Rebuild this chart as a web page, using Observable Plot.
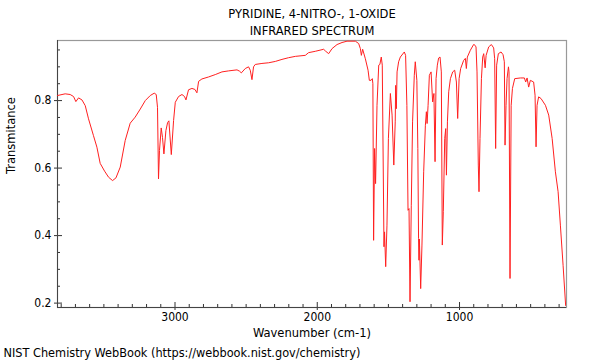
<!DOCTYPE html>
<html>
<head>
<meta charset="utf-8">
<script src="https://cdn.jsdelivr.net/npm/d3@7"></script>
<script src="https://cdn.jsdelivr.net/npm/@observablehq/plot@0.6"></script>
<style>
  html, body { margin: 0; padding: 0; background: #fff; }
  #chart svg { display: block; }
</style>
</head>
<body>
<div id="chart"></div>
<script>
const titleLines = ["PYRIDINE, 4-NITRO-, 1-OXIDE", "INFRARED SPECTRUM"];
const xLabel = "Wavenumber (cm-1)";
const yLabel = "Transmitance";
const footer = "NIST Chemistry WebBook (https://webbook.nist.gov/chemistry)";

const wavenumber = [
  3826, 3772, 3737, 3713, 3697, 3678, 3654, 3631, 3608, 3573, 3549, 3526, 3495, 3467, 3439, 3415,
  3385, 3350, 3315, 3280, 3244, 3209, 3174, 3146, 3132, 3123, 3116, 3109, 3097, 3088, 3078, 3064,
  3052, 3043, 3026, 3010, 2998, 2975, 2951, 2933, 2923, 2905, 2881, 2860, 2846, 2834, 2811, 2764,
  2717, 2670, 2623, 2564, 2546, 2534, 2506, 2483, 2471, 2459, 2448, 2436, 2389, 2342, 2295, 2248,
  2202, 2154, 2084, 2061, 2014, 1955, 1943, 1920, 1896, 1861, 1826, 1791, 1732, 1709, 1697, 1690,
  1681, 1662, 1643, 1634, 1622, 1613, 1609, 1604, 1597, 1590, 1580, 1568, 1560, 1550, 1543, 1531,
  1527, 1519, 1510, 1500, 1486, 1474, 1462, 1452, 1449, 1444, 1439, 1428, 1416, 1388, 1379, 1370,
  1362, 1355, 1348, 1339, 1330, 1318, 1311, 1300, 1293, 1288, 1285, 1282, 1273, 1264, 1252, 1240,
  1233, 1228, 1221, 1212, 1200, 1189, 1180, 1172, 1165, 1156, 1147, 1137, 1128, 1121, 1114, 1104,
  1097, 1092, 1085, 1076, 1064, 1048, 1034, 1022, 1013, 1003, 992, 971, 959, 952, 945, 924,
  901, 896, 884, 877, 868, 863, 856, 846, 837, 830, 820, 813, 795, 776, 760, 753,
  746, 739, 727, 708, 694, 685, 680, 673, 666, 656, 652, 645, 637, 628, 612, 572,
  544, 535, 525, 514, 502, 479, 469, 462, 455, 444, 427, 396, 373, 349, 326, 307,
  291, 272, 254
];
const transmittance = [
  0.815, 0.820, 0.818, 0.812, 0.797, 0.808, 0.802, 0.785, 0.746, 0.696, 0.662, 0.614, 0.591, 0.573, 0.563, 0.571,
  0.603, 0.682, 0.733, 0.751, 0.775, 0.800, 0.815, 0.822, 0.818, 0.780, 0.568, 0.652, 0.719, 0.691, 0.642, 0.711,
  0.735, 0.740, 0.640, 0.741, 0.795, 0.812, 0.818, 0.812, 0.802, 0.832, 0.836, 0.833, 0.823, 0.857, 0.864, 0.870,
  0.877, 0.885, 0.888, 0.891, 0.887, 0.882, 0.895, 0.900, 0.890, 0.862, 0.900, 0.907, 0.910, 0.912, 0.916, 0.922,
  0.927, 0.931, 0.934, 0.942, 0.946, 0.952, 0.947, 0.939, 0.954, 0.966, 0.972, 0.976, 0.976, 0.969, 0.954, 0.934,
  0.952, 0.924, 0.890, 0.860, 0.860, 0.865, 0.850, 0.386, 0.658, 0.554, 0.786, 0.905, 0.907, 0.929, 0.905, 0.367,
  0.411, 0.308, 0.431, 0.688, 0.821, 0.757, 0.609, 0.737, 0.845, 0.776, 0.885, 0.915, 0.929, 0.944, 0.934, 0.786,
  0.475, 0.480, 0.204, 0.490, 0.737, 0.875, 0.915, 0.860, 0.658, 0.391, 0.327, 0.390, 0.243, 0.372, 0.589, 0.727,
  0.767, 0.732, 0.786, 0.875, 0.885, 0.796, 0.821, 0.619, 0.865, 0.905, 0.926, 0.929, 0.885, 0.372, 0.471, 0.688,
  0.717, 0.579, 0.737, 0.826, 0.865, 0.885, 0.890, 0.855, 0.747, 0.865, 0.895, 0.919, 0.925, 0.895, 0.929, 0.949,
  0.966, 0.966, 0.959, 0.885, 0.609, 0.530, 0.688, 0.865, 0.929, 0.939, 0.897, 0.934, 0.959, 0.966, 0.956, 0.924,
  0.658, 0.905, 0.939, 0.944, 0.936, 0.915, 0.668, 0.786, 0.865, 0.900, 0.885, 0.273, 0.786, 0.836, 0.865, 0.867,
  0.867, 0.855, 0.867, 0.840, 0.860, 0.855, 0.816, 0.663, 0.786, 0.811, 0.806, 0.786, 0.757, 0.688, 0.589, 0.530,
  0.431, 0.312, 0.193
];

const xDomain = [3826, 248];
const yDomain = [0.187, 0.978];
const xTicks = [3000, 2000, 1000];
const yTicks = [0.2, 0.4, 0.6, 0.8];
const xMinorTicks = [3800, 3700, 3600, 3500, 3400, 3300, 3200, 3100, 2900, 2800, 2700, 2600, 2500, 2400, 2300, 2200, 2100,
  1900, 1800, 1700, 1600, 1500, 1400, 1300, 1200, 1100, 900, 800, 700, 600, 500, 400, 300];
const yMinorTicks = [0.25, 0.3, 0.35, 0.45, 0.5, 0.55, 0.65, 0.7, 0.75, 0.85, 0.9, 0.95];

const spectrum = wavenumber.map((w, i) => ({w, t: transmittance[i]}));

const W = 600, H = 360;
const mL = 57, mR = 34, mT = 40, mB = 53;
const frameH = H - mT - mB;
const frameW = W - mL - mR;
const font = "'DejaVu Sans Condensed', 'DejaVu Sans', sans-serif";

const chart = Plot.plot({
  width: W,
  height: H,
  marginLeft: mL,
  marginRight: mR,
  marginTop: mT,
  marginBottom: mB,
  style: {fontFamily: font, fontSize: "12px", color: "#000", background: "#fff", overflow: "visible"},
  x: {domain: xDomain, label: null},
  y: {domain: yDomain, label: null},
  marks: [
    Plot.frame({stroke: "#999", strokeWidth: 1.2}),
    Plot.tickX(xMinorTicks, {x: d => d, stroke: "#333", insetTop: frameH - 3}),
    Plot.tickX(xTicks, {x: d => d, stroke: "#333", insetTop: frameH - 5}),
    Plot.tickY(yMinorTicks, {y: d => d, stroke: "#333", insetRight: frameW - 3}),
    Plot.tickY(yTicks, {y: d => d, stroke: "#333", insetRight: frameW - 5}),
    Plot.axisX(xTicks, {tickSize: 3, tickPadding: 2, fontSize: 12, stroke: "#333", tickFormat: d3.format("d"), label: null}),
    Plot.axisY(yTicks, {tickSize: 3, tickPadding: 3, fontSize: 12, stroke: "#333", tickFormat: d3.format(".1f"), label: null}),
    Plot.ruleY([yDomain[0]], {stroke: "#444"}),
    Plot.ruleX([xDomain[0]], {stroke: "#444"}),
    Plot.line(spectrum, {x: "w", y: "t", stroke: "#ff2020", strokeWidth: 1, clip: true}),
    Plot.text([titleLines[0]], {frameAnchor: "top", lineAnchor: "middle", dy: -27, fontSize: 12.8, fill: "#000"}),
    Plot.text([titleLines[1]], {frameAnchor: "top", lineAnchor: "middle", dy: -10, fontSize: 12.8, fill: "#000"}),
    Plot.text([xLabel], {frameAnchor: "bottom", lineAnchor: "middle", dy: 25, fontSize: 12.8, fill: "#000"}),
    Plot.text([yLabel], {frameAnchor: "left", lineAnchor: "middle", dx: -47, rotate: -90, fontSize: 12.8, fill: "#000"}),
    Plot.text([footer], {frameAnchor: "bottom-left", lineAnchor: "middle", dx: -54, dy: 45, textAnchor: "start", fontSize: 12.6, fill: "#000"})
  ]
});
document.getElementById("chart").appendChild(chart);
</script>
</body>
</html>
